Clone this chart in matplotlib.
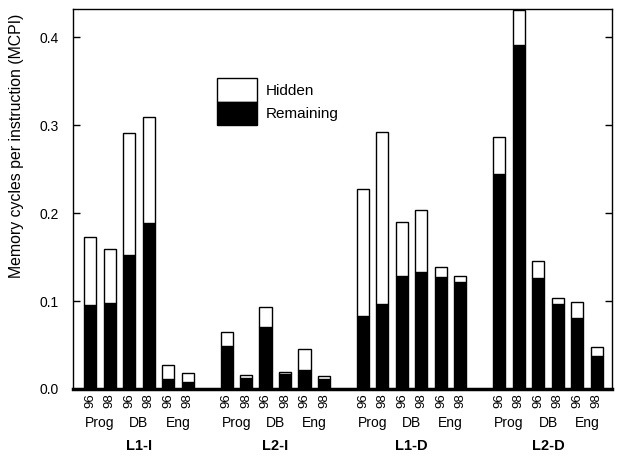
import matplotlib
matplotlib.use("Agg")
import matplotlib.pyplot as plt
from matplotlib.patches import Patch
import numpy as np

plt.rcParams['font.family'] = ['Liberation Sans', 'DejaVu Sans']

groups = ["L1-I", "L2-I", "L1-D", "L2-D"]
workloads = ["Prog", "DB", "Eng"]
years = ["96", "98"]

# total MCPI (hidden + remaining) and remaining, per group, order: Prog96, Prog98, DB96, DB98, Eng96, Eng98
total = {
    "L1-I": [0.173, 0.159, 0.291, 0.309, 0.027, 0.018],
    "L2-I": [0.065, 0.016, 0.093, 0.019, 0.045, 0.015],
    "L1-D": [0.227, 0.292, 0.190, 0.204, 0.139, 0.129],
    "L2-D": [0.286, 0.431, 0.145, 0.103, 0.099, 0.048],
}
remaining = {
    "L1-I": [0.095, 0.098, 0.152, 0.189, 0.011, 0.008],
    "L2-I": [0.049, 0.013, 0.070, 0.017, 0.022, 0.011],
    "L1-D": [0.083, 0.097, 0.128, 0.133, 0.127, 0.122],
    "L2-D": [0.244, 0.391, 0.126, 0.097, 0.081, 0.038],
}

fig = plt.figure(figsize=(6.22, 4.59), dpi=100)
ax = fig.add_axes([73/622, 1 - 389/459, 539/622, 380/459])
xt = ax.get_xaxis_transform()

width = 0.62
positions = []
labels = []
for gi, g in enumerate(groups):
    x = np.arange(6) + gi * 7
    rem = np.array(remaining[g])
    hid = np.array(total[g]) - rem
    ax.bar(x, rem, width, color="black", edgecolor="black", linewidth=1)
    ax.bar(x, hid, width, bottom=rem, color="white", edgecolor="black", linewidth=1)
    positions.extend(x)
    labels.extend(years * 3)
    for wi, w in enumerate(workloads):
        ax.text(x[2 * wi] + 0.5, -0.09, w, ha="center", va="center", fontsize=10,
                transform=xt, clip_on=False)
    ax.text(x[2] + 0.5, -0.15, g, ha="center", va="center", fontsize=10.5,
            fontweight="bold", transform=xt, clip_on=False)

ax.set_xticks(positions)
ax.set_xticklabels(labels, rotation=90, fontsize=9.5)
ax.tick_params(axis="x", length=0, pad=3)
ax.set_xlim(-0.88, 26.78)
ax.set_ylim(0, 0.432)
ax.set_yticks([0.0, 0.1, 0.2, 0.3, 0.4])
ax.set_yticklabels(["0.0", "0.1", "0.2", "0.3", "0.4"], fontsize=10)
ax.tick_params(axis="y", direction="in", length=5, right=True, left=True, width=1, pad=10)
ax.set_ylabel("Memory cycles per instruction (MCPI)", fontsize=11.4)
ax.yaxis.set_label_coords(-0.09, 0.64)
for s in ax.spines.values():
    s.set_linewidth(1)
ax.spines["bottom"].set_linewidth(2.5)

handles = [Patch(facecolor="white", edgecolor="black", label="Hidden"),
           Patch(facecolor="black", edgecolor="black", label="Remaining")]
ax.legend(handles=handles, loc="upper left", bbox_to_anchor=(0.256, 0.834), frameon=False,
          handlelength=2.6, handleheight=2.0, labelspacing=0.0, handletextpad=0.6,
          fontsize=11, borderaxespad=0)

fig.savefig("out.png", dpi=100)
